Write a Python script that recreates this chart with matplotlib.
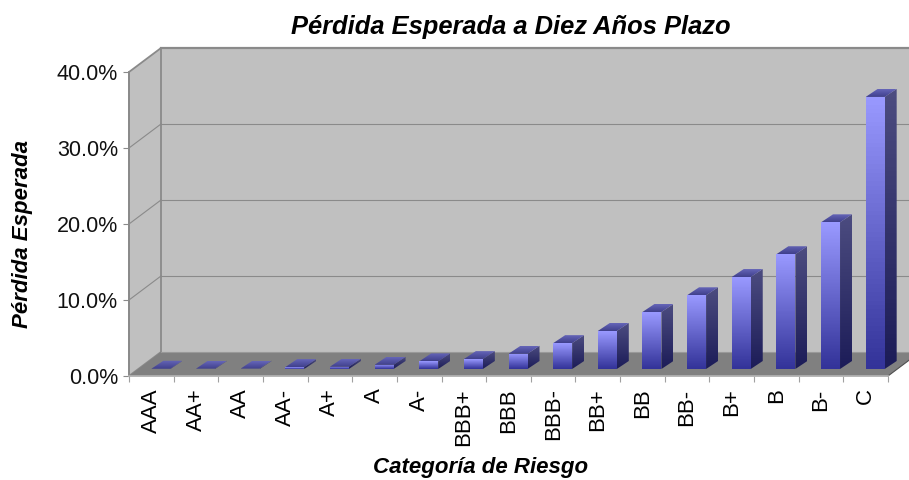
import numpy as np
import matplotlib
matplotlib.use('Agg')
import matplotlib.pyplot as plt
from matplotlib.colors import LinearSegmentedColormap
from matplotlib.patches import Polygon

categories = ['AAA', 'AA+', 'AA', 'AA-', 'A+', 'A', 'A-', 'BBB+', 'BBB', 'BBB-',
              'BB+', 'BB', 'BB-', 'B+', 'B', 'B-', 'C']
loss = [0.03, 0.04, 0.05, 0.25, 0.3, 0.55, 1.0, 1.3, 2.0, 3.4,
        5.0, 7.5, 9.7, 12.1, 15.1, 19.3, 35.8]
y_ticks = [0, 10, 20, 30, 40]

plt.rcParams['font.family'] = ['Liberation Sans', 'DejaVu Sans']

fig = plt.figure(figsize=(9.09, 4.8), dpi=100)
# axes box = front plane of the 3d chart
ax = fig.add_axes([129 / 909, 1 - 376 / 480, (888 - 129) / 909, 304 / 480])
ax.set_xlim(0, len(categories))
ax.set_ylim(0, 40)

# pixel sizes turned into data units
ux = len(categories) / 759
uy = 40 / 304
dx, dy = 32 * ux, 24 * uy

grey = '#8a8a8a'
wall = '#c0c0c0'

# walls and floor
ax.add_patch(Polygon([(dx, dy), (dx, 40 + dy), (19, 40 + dy), (19, dy)], fc=wall, ec='none', clip_on=False, zorder=1))
ax.add_patch(Polygon([(0, 0), (0, 40), (dx, 40 + dy), (dx, dy)], fc=wall, ec=grey, lw=1.3, clip_on=False, zorder=1))
ax.add_patch(Polygon([(0, 0), (dx, dy), (19, dy), (17 + dx, dy), (17, 0)], fc='#808080', ec='none', clip_on=False, zorder=2))
ax.plot([dx, 19], [40 + dy, 40 + dy], color=grey, lw=1.6, clip_on=False, zorder=2)
ax.plot([17, 17 + dx], [0, dy], color='#505050', lw=0.8, clip_on=False, zorder=2)
ax.plot([dx, 19], [dy, dy], color='#999999', lw=0.8, clip_on=False, zorder=2)
for t in y_ticks[1:-1]:
    ax.plot([dx, 19], [t + dy, t + dy], color=grey, lw=0.8, clip_on=False, zorder=2)
    ax.plot([0, dx], [t, t + dy], color=grey, lw=0.8, clip_on=False, zorder=2)

front_cmap = LinearSegmentedColormap.from_list('front', ['#333399', '#9999ff'])
side_cmap = LinearSegmentedColormap.from_list('side', ['#1c1c58', '#4c4c80'])
top_cmap = LinearSegmentedColormap.from_list('top', ['#3f3f8c', '#6666b8'])
ramp = np.linspace(1, 0, 64).reshape(-1, 1)

bw, bd, bh = 19 * ux, 12 * ux, 8 * uy
base = 7 * uy


def shaded(poly, cmap, z):
    xs = [p[0] for p in poly]
    ys = [p[1] for p in poly]
    im = ax.imshow(ramp, cmap=cmap, vmin=0, vmax=1, aspect='auto', zorder=z,
                   extent=[min(xs), max(xs), min(ys), max(ys)])
    # images stop at the axes box otherwise, and the last bar pokes out of it
    im.set_clip_box(fig.bbox)
    im.set_clip_path(Polygon(poly, transform=ax.transData))


for i, v in enumerate(loss):
    x0 = i + 0.5 - bw / 2 + 9.5 * ux
    x1 = x0 + bw
    y0, y1 = base, base + v
    z = 3 + i * 0.01
    shaded([(x1, y0), (x1 + bd, y0 + bh), (x1 + bd, y1 + bh), (x1, y1)], side_cmap, z)
    shaded([(x0, y1), (x1, y1), (x1 + bd, y1 + bh), (x0 + bd, y1 + bh)], top_cmap, z)
    shaded([(x0, y0), (x1, y0), (x1, y1), (x0, y1)], front_cmap, z)

ax.set_xlim(0, len(categories))
ax.set_ylim(0, 40)

for s in ['top', 'right']:
    ax.spines[s].set_visible(False)
for s in ['left', 'bottom']:
    ax.spines[s].set_color(grey)
    ax.spines[s].set_linewidth(1.3)
    ax.spines[s].set_zorder(2.5)
ax.spines['bottom'].set_color('#b0b0b0')
ax.set_xticks(np.arange(len(categories) + 1))
ax.set_xticklabels([])
ax.set_xticks(np.arange(len(categories)) + 0.5, minor=True)
ax.set_xticklabels(categories, minor=True, rotation=90, fontsize=16)
ax.tick_params(axis='x', which='major', length=4, color='#a0a0a0', width=0.8)
ax.tick_params(axis='x', which='minor', length=0, pad=9)
ax.set_yticks(y_ticks)
ax.set_yticklabels([f'{t:.1f}%' for t in y_ticks], fontsize=15.5, color='#111111')
ax.tick_params(axis='y', length=4, color=grey, width=0.8, pad=4)
ax.set_facecolor('none')

fig.text(511 / 909, 1 - 27 / 480, 'Pérdida Esperada a Diez Años Plazo', ha='center', va='center',
         fontsize=18.4, fontweight='bold', fontstyle='italic')
fig.text(481 / 909, 1 - 467 / 480, 'Categoría de Riesgo', ha='center', va='center',
         fontsize=16, fontweight='bold', fontstyle='italic')
fig.text(23 / 909, 1 - 234 / 480, 'Pérdida Esperada', ha='center', va='center', rotation=90,
         fontsize=16, fontweight='bold', fontstyle='italic')

fig.savefig('out.png', dpi=100)
